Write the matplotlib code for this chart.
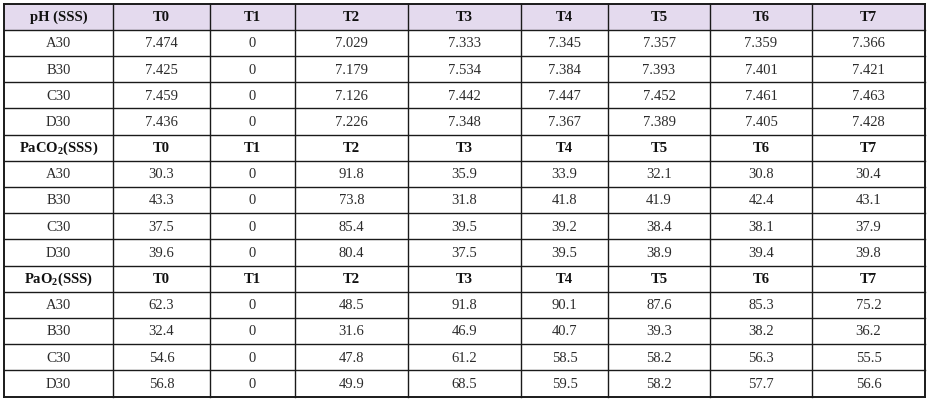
import matplotlib
matplotlib.use("Agg")
import matplotlib.pyplot as plt
from matplotlib.patches import Rectangle

plt.rcParams['font.family'] = ['Liberation Serif', 'DejaVu Serif']
plt.rcParams['mathtext.fontset'] = 'custom'
plt.rcParams['mathtext.rm'] = 'Liberation Serif:bold'
plt.rcParams['mathtext.it'] = 'Liberation Serif:bold'
plt.rcParams['mathtext.bf'] = 'Liberation Serif:bold'

time_points = ["T0", "T1", "T2", "T3", "T4", "T5", "T6", "T7"]
groups = ["A30", "B30", "C30", "D30"]

ph_title = "pH (SSS)"
ph_A30 = ["7.474", "0", "7.029", "7.333", "7.345", "7.357", "7.359", "7.366"]
ph_B30 = ["7.425", "0", "7.179", "7.534", "7.384", "7.393", "7.401", "7.421"]
ph_C30 = ["7.459", "0", "7.126", "7.442", "7.447", "7.452", "7.461", "7.463"]
ph_D30 = ["7.436", "0", "7.226", "7.348", "7.367", "7.389", "7.405", "7.428"]

paco2_title = r"PaCO$_{2}$(SSS)"
paco2_A30 = ["30.3", "0", "91.8", "35.9", "33.9", "32.1", "30.8", "30.4"]
paco2_B30 = ["43.3", "0", "73.8", "31.8", "41.8", "41.9", "42.4", "43.1"]
paco2_C30 = ["37.5", "0", "85.4", "39.5", "39.2", "38.4", "38.1", "37.9"]
paco2_D30 = ["39.6", "0", "80.4", "37.5", "39.5", "38.9", "39.4", "39.8"]

pao2_title = r"PaO$_{2}$(SSS)"
pao2_A30 = ["62.3", "0", "48.5", "91.8", "90.1", "87.6", "85.3", "75.2"]
pao2_B30 = ["32.4", "0", "31.6", "46.9", "40.7", "39.3", "38.2", "36.2"]
pao2_C30 = ["54.6", "0", "47.8", "61.2", "58.5", "58.2", "56.3", "55.5"]
pao2_D30 = ["56.8", "0", "49.9", "68.5", "59.5", "58.2", "57.7", "56.6"]

blocks = [
    (ph_title, [ph_A30, ph_B30, ph_C30, ph_D30], True),
    (paco2_title, [paco2_A30, paco2_B30, paco2_C30, paco2_D30], False),
    (pao2_title, [pao2_A30, pao2_B30, pao2_C30, pao2_D30], False),
]

W, H = 930, 402
fig = plt.figure(figsize=(W / 100, H / 100), dpi=100)
ax = fig.add_axes([0, 0, 1, 1])
ax.set_xlim(0, W)
ax.set_ylim(H, 0)
ax.axis('off')

col_edges = [4, 113, 210, 295, 408, 521, 608, 710, 812, 925]
top, bottom = 4.5, 397.5
n_rows = 15
row_h = (bottom - top) / n_rows
row_edges = [top + i * row_h for i in range(n_rows + 1)]

header_bg = "#E4DAEE"
line_col = "#1a1a1a"
head_col = "#111111"
body_col = "#2b2b2b"
fs = 10.5

r = 0
for title, rows, shaded in blocks:
    y0, y1 = row_edges[r], row_edges[r + 1]
    if shaded:
        ax.add_patch(Rectangle((col_edges[0], y0), col_edges[-1] - col_edges[0], y1 - y0,
                               facecolor=header_bg, edgecolor='none', zorder=0))
    yc = (y0 + y1) / 2
    ax.text((col_edges[0] + col_edges[1]) / 2, yc, title, ha='center', va='center',
            fontsize=fs, fontweight='bold', color=head_col)
    for j, tp in enumerate(time_points):
        ax.text((col_edges[j + 1] + col_edges[j + 2]) / 2, yc, tp, ha='center', va='center',
                fontsize=fs, fontweight='bold', color=head_col)
    r += 1
    for g, vals in zip(groups, rows):
        y0, y1 = row_edges[r], row_edges[r + 1]
        yc = (y0 + y1) / 2
        ax.text((col_edges[0] + col_edges[1]) / 2, yc, g, ha='center', va='center',
                fontsize=fs, color=body_col)
        for j, v in enumerate(vals):
            ax.text((col_edges[j + 1] + col_edges[j + 2]) / 2, yc, v, ha='center', va='center',
                    fontsize=fs, color=body_col)
        r += 1

for y in row_edges:
    lw = 1.4 if y in (row_edges[0], row_edges[-1]) else 1.0
    ax.plot([col_edges[0], col_edges[-1]], [y, y], color=line_col, lw=lw, solid_capstyle='projecting')
for i, x in enumerate(col_edges):
    lw = 1.4 if i in (0, len(col_edges) - 1) else 1.0
    ax.plot([x, x], [row_edges[0], row_edges[-1]], color=line_col, lw=lw, solid_capstyle='projecting')

fig.savefig("out.png", dpi=100, facecolor='white')
